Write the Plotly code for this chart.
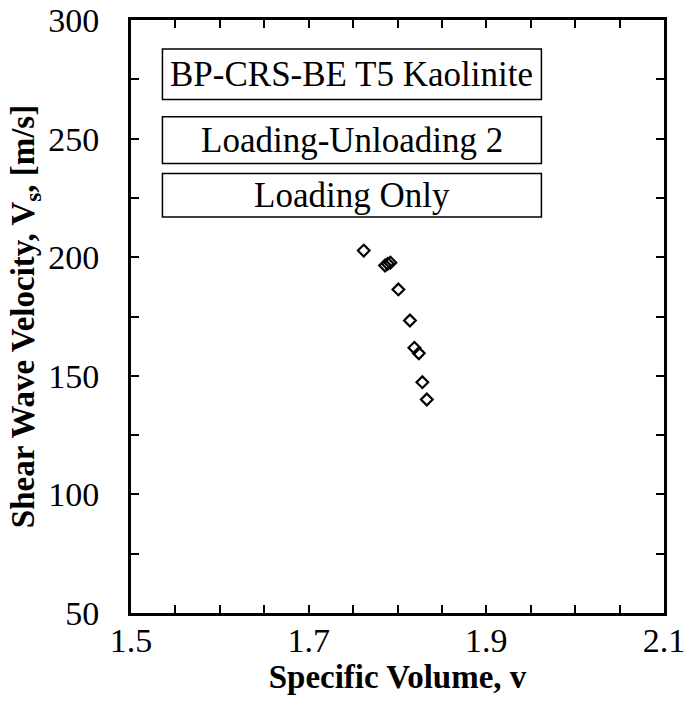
import plotly.graph_objects as go

# Data
specific_volume = [1.762, 1.786, 1.789, 1.792, 1.801, 1.814, 1.819, 1.824, 1.828, 1.833]
shear_velocity = [202.8, 196.5, 197.2, 197.7, 186.4, 173.3, 161.8, 159.5, 147.3, 140.0]

x_ticks = [1.5, 1.7, 1.9, 2.1]
y_ticks = [50, 100, 150, 200, 250, 300]
box_labels = ["BP-CRS-BE T5 Kaolinite", "Loading-Unloading 2", "Loading Only"]

FONT = "Liberation Serif"

fig = go.Figure()
fig.add_trace(go.Scatter(
    x=specific_volume, y=shear_velocity, mode="markers",
    marker=dict(symbol="diamond-open", size=9, color="black", line=dict(width=2.2, color="black")),
    showlegend=False,
))

axis_common = dict(
    showgrid=False, zeroline=False, showline=True, linecolor="black", linewidth=3,
    mirror="allticks", ticks="inside", ticklen=8, tickwidth=2, tickcolor="black",
    tickfont=dict(family=FONT, size=34, color="black"), automargin=False,
    ticklabeloverflow="allow",
)

fig.update_xaxes(
    range=[1.5, 2.1], tickvals=x_ticks, ticktext=[f"{v:.1f}" for v in x_ticks],
    minor=dict(dtick=0.05, tick0=1.5, ticks="inside", ticklen=8, tickwidth=2, tickcolor="black"),
    ticklabelstandoff=-5,
    title=dict(text="<b>Specific Volume, v</b>", font=dict(family=FONT, size=33, color="black"), standoff=4),
    **axis_common,
)
fig.update_yaxes(
    range=[50, 300], tickvals=y_ticks, ticktext=[str(v) for v in y_ticks],
    minor=dict(dtick=25, tick0=50, ticks="inside", ticklen=8, tickwidth=2, tickcolor="black"),
    ticklabelstandoff=22,
    title=dict(text="<b>Shear Wave Velocity, V<sub>s</sub>, [m/s]</b>", font=dict(family=FONT, size=33, color="black"), standoff=4),
    **axis_common,
)

# label boxes (paper coordinates)
box_x0, box_x1 = 0.059, 0.770
box_rows = [(0.951, 0.866), (0.837, 0.758), (0.741, 0.668)]
for label, (top, bot) in zip(box_labels, box_rows):
    fig.add_shape(type="rect", xref="paper", yref="paper", x0=box_x0, x1=box_x1, y0=bot, y1=top,
                  line=dict(color="black", width=1.5), fillcolor="white", layer="above")
    fig.add_annotation(xref="paper", yref="paper", x=(box_x0 + box_x1) / 2, y=(top + bot) / 2,
                       text=label, showarrow=False, xanchor="center", yanchor="middle",
                       font=dict(family=FONT, size=35, color="black"))

fig.update_layout(
    width=684, height=710,
    margin=dict(l=131, r=20, t=20, b=97, autoexpand=False),
    plot_bgcolor="white", paper_bgcolor="white",
    font=dict(family=FONT, color="black"),
)

fig.write_html("out.html", config={"displayModeBar": False},
               post_script="document.body.style.margin='0';")
